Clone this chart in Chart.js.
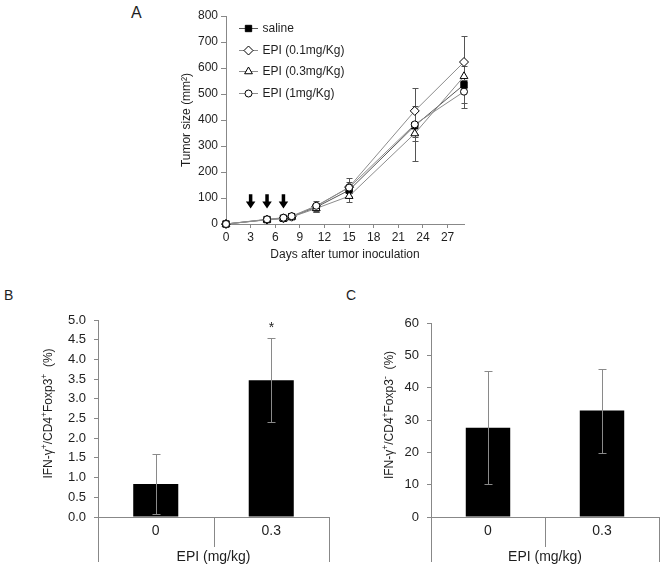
<!DOCTYPE html>
<html>
<head>
<meta charset="utf-8">
<script src="https://cdn.jsdelivr.net/npm/chart.js@4.4.0/dist/chart.umd.min.js"></script>
<style>
  body { margin: 0; background: #fff; }
  #page { position: relative; width: 666px; height: 570px; font-family: "Liberation Sans", Arial, sans-serif; color: #1e1e1e; }
  canvas { position: absolute; }
  .tag { position: absolute; font-size: 16px; line-height: 16px; }
</style>
</head>
<body>
<div id="page">
  <div class="tag" style="left:131px;top:5px">A</div>
  <div class="tag" style="left:4px;top:288px;font-size:14px;line-height:14px">B</div>
  <div class="tag" style="left:346px;top:288px;font-size:14px;line-height:14px">C</div>
  <canvas id="chartA" width="340" height="266" style="left:140px;top:0"></canvas>
  <canvas id="chartB" width="340" height="290" style="left:0;top:280px"></canvas>
  <canvas id="chartC" width="326" height="290" style="left:340px;top:280px"></canvas>
</div>
<script>
// Panel A: tumor growth
const days = [0, 5, 7, 8, 11, 15, 23, 29];
const salineMean = [0, 17, 22, 28, 65, 130, 378, 536];
const salineErr = [0, 3, 3, 4, 15, 25, 60, 90];
const epi01Mean = [0, 17, 22, 28, 68, 142, 435, 623];
const epi01Err = [0, 3, 3, 4, 22, 36, 88, 100];
const epi03Mean = [0, 16, 21, 27, 60, 107, 348, 568];
const epi03Err = [0, 3, 4, 4, 15, 22, 106, 40];
const epi1Mean = [0, 18, 24, 30, 70, 140, 383, 509];
const epi1Err = [0, 3, 4, 4, 12, 20, 50, 45];
const seriesLabels = ['saline', 'EPI (0.1mg/Kg)', 'EPI (0.3mg/Kg)', 'EPI (1mg/Kg)'];
const arrowDays = [3, 5, 7];
const arrowTop = 114;
const arrowTip = 60;

// Panels B and C
const doseLabels = ['0', '0.3'];
const bMean = [0.84, 3.47];
const bErr = [0.76, 1.07];
const bSig = ['', '*'];
const cMean = [27.6, 32.9];
const cErr = [17.5, 13.0];
const cSig = ['', ''];
// y titles: [text, superscript?]
const bTitle = [['IFN-γ', 0], ['+', 1], ['/CD4', 0], ['+', 1], ['Foxp3', 0], ['+', 1], ['  (%)', 0]];
const cTitle = [['IFN-γ', 0], ['+', 1], ['/CD4', 0], ['+', 1], ['Foxp3', 0], ['-', 1], ['  (%)', 0]];

const FONT = '"Liberation Sans", Arial, sans-serif';
const TEXT = '#1e1e1e';
const AXIS = '#888';
Chart.defaults.font.family = FONT;
Chart.defaults.color = TEXT;

function marker(ctx, style, r, fill, x, y) {
  ctx.save();
  ctx.fillStyle = fill;
  ctx.strokeStyle = '#000';
  ctx.lineWidth = 1;
  Chart.helpers.drawPoint(ctx, { pointStyle: style, radius: r, rotation: 0, borderWidth: 1 }, x, y);
  ctx.restore();
}

function series(label, mean, err, style, fill, line, r, order) {
  return {
    label: label,
    data: days.map((d, i) => ({ x: d, y: mean[i] })),
    err: err,
    order: order,
    borderColor: line,
    borderWidth: 1,
    pointStyle: style,
    pointRadius: r,
    pointBackgroundColor: fill,
    pointBorderColor: '#000',
    pointBorderWidth: 1,
    tension: 0,
    clip: false
  };
}

// error bars behind the markers
const lineErrors = {
  id: 'lineErrors',
  beforeDatasetsDraw(chart) {
    const { ctx, scales: { x, y } } = chart;
    ctx.save();
    ctx.strokeStyle = '#555';
    ctx.lineWidth = 1;
    chart.data.datasets.forEach(ds => {
      ds.data.forEach((p, i) => {
        const e = ds.err[i];
        if (!e) return;
        const px = Math.round(x.getPixelForValue(p.x)) + 0.5;
        const top = Math.round(y.getPixelForValue(p.y + e)) + 0.5;
        const bot = Math.round(y.getPixelForValue(p.y - e)) + 0.5;
        ctx.beginPath();
        ctx.moveTo(px, top); ctx.lineTo(px, bot);
        ctx.moveTo(px - 3, top); ctx.lineTo(px + 3, top);
        ctx.moveTo(px - 3, bot); ctx.lineTo(px + 3, bot);
        ctx.stroke();
      });
    });
    ctx.restore();
  }
};

const arrows = {
  id: 'arrows',
  afterDatasetsDraw(chart) {
    const { ctx, scales: { x, y } } = chart;
    ctx.save();
    ctx.fillStyle = '#000';
    arrowDays.forEach(d => {
      const cx = x.getPixelForValue(d);
      const top = y.getPixelForValue(arrowTop);
      const tip = y.getPixelForValue(arrowTip);
      const headH = 7, shaft = 3.5, head = 9.5;
      ctx.beginPath();
      ctx.moveTo(cx - shaft / 2, top);
      ctx.lineTo(cx + shaft / 2, top);
      ctx.lineTo(cx + shaft / 2, tip - headH);
      ctx.lineTo(cx + head / 2, tip - headH);
      ctx.lineTo(cx, tip);
      ctx.lineTo(cx - head / 2, tip - headH);
      ctx.lineTo(cx - shaft / 2, tip - headH);
      ctx.closePath();
      ctx.fill();
    });
    ctx.restore();
  }
};

// legend sits inside the plot, top left
const innerLegend = {
  id: 'innerLegend',
  afterDraw(chart) {
    const { ctx, chartArea } = chart;
    ctx.save();
    ctx.font = '12px ' + FONT;
    ctx.textBaseline = 'middle';
    chart.data.datasets.forEach((ds, i) => {
      const yy = Math.round(chartArea.top + 12 + i * 21.5) + 0.5;
      const x0 = chartArea.left + 13;
      ctx.strokeStyle = ds.borderColor;
      ctx.lineWidth = 1;
      ctx.beginPath();
      ctx.moveTo(x0, yy); ctx.lineTo(x0 + 19, yy);
      ctx.stroke();
      marker(ctx, ds.pointStyle, ds.pointRadius, ds.pointBackgroundColor, x0 + 9.5, yy);
      ctx.fillStyle = TEXT;
      ctx.fillText(ds.label, x0 + 23.5, yy);
    });
    ctx.restore();
  }
};

new Chart(document.getElementById('chartA'), {
  type: 'line',
  data: {
    datasets: [
      series(seriesLabels[0], salineMean, salineErr, 'rect', '#000', '#555', 4.5, 4),
      series(seriesLabels[1], epi01Mean, epi01Err, 'rectRot', '#fff', '#8c8c8c', 4.5, 3),
      series(seriesLabels[2], epi03Mean, epi03Err, 'triangle', '#fff', '#8c8c8c', 4.5, 2),
      series(seriesLabels[3], epi1Mean, epi1Err, 'circle', '#fff', '#8c8c8c', 3.5, 1)
    ]
  },
  options: {
    responsive: false,
    animation: false,
    layout: { padding: { left: 35, top: 16, right: 16, bottom: 0 } },
    plugins: { legend: { display: false }, tooltip: { enabled: false } },
    scales: {
      x: {
        type: 'linear', min: 0, max: 29,
        afterFit: s => { s.height = 42; },
        ticks: { stepSize: 3, includeBounds: false, padding: 2, maxRotation: 0, font: { size: 12 } },
        grid: { drawOnChartArea: false, tickLength: 4, color: AXIS },
        border: { color: AXIS },
        title: { display: true, text: 'Days after tumor inoculation', font: { size: 12 } }
      },
      y: {
        min: 0, max: 800,
        afterFit: s => { s.width = 51; },
        ticks: { stepSize: 100, padding: 3, font: { size: 12 } },
        grid: { drawOnChartArea: false, tickLength: 5, color: AXIS },
        border: { color: AXIS },
        title: { display: true, text: 'Tumor size (mm²)', font: { size: 12 } }
      }
    }
  },
  plugins: [lineErrors, arrows, innerLegend]
});

// bar panels
const barErrors = {
  id: 'barErrors',
  afterDatasetsDraw(chart) {
    const { ctx, scales: { x, y } } = chart;
    const ds = chart.data.datasets[0];
    ctx.save();
    ctx.strokeStyle = '#8a8a8a';
    ctx.lineWidth = 1;
    ctx.font = '14px ' + FONT;
    ctx.textAlign = 'center';
    ctx.textBaseline = 'alphabetic';
    ds.data.forEach((v, i) => {
      const px = Math.round(x.getPixelForValue(i)) + 0.5;
      const top = Math.round(y.getPixelForValue(v + ds.err[i])) + 0.5;
      const bot = Math.round(y.getPixelForValue(v - ds.err[i])) + 0.5;
      ctx.beginPath();
      ctx.moveTo(px, top); ctx.lineTo(px, bot);
      ctx.moveTo(px - 4, top); ctx.lineTo(px + 4, top);
      ctx.moveTo(px - 4, bot); ctx.lineTo(px + 4, bot);
      ctx.stroke();
      if (ds.sig[i]) {
        ctx.fillStyle = TEXT;
        ctx.fillText(ds.sig[i], px, top - 7);
      }
    });
    ctx.restore();
  }
};

const catDividers = {
  id: 'catDividers',
  afterDraw(chart) {
    const { ctx, chartArea, scales: { x } } = chart;
    const mid = (x.getPixelForValue(0) + x.getPixelForValue(1)) / 2;
    const lines = [[chartArea.left, 45], [mid, 30], [chartArea.right, 45]];
    ctx.save();
    ctx.strokeStyle = AXIS;
    ctx.lineWidth = 1;
    lines.forEach(([px, len]) => {
      const xx = Math.round(px) + 0.5;
      ctx.beginPath();
      ctx.moveTo(xx, chartArea.bottom);
      ctx.lineTo(xx, chartArea.bottom + len);
      ctx.stroke();
    });
    ctx.restore();
  }
};

// rotated y title with superscripts
const supTitle = {
  id: 'supTitle',
  afterDraw(chart, args, opts) {
    const { ctx, chartArea, scales: { y } } = chart;
    const base = '12px ' + FONT, sup = '8.5px ' + FONT;
    ctx.save();
    let total = 0;
    opts.parts.forEach(([t, s]) => { ctx.font = s ? sup : base; total += ctx.measureText(t).width; });
    ctx.translate(y.left + 12.3, (chartArea.top + chartArea.bottom) / 2 - 5);
    ctx.rotate(-Math.PI / 2);
    ctx.fillStyle = TEXT;
    ctx.textBaseline = 'middle';
    let pos = -total / 2;
    opts.parts.forEach(([t, s]) => {
      ctx.font = s ? sup : base;
      ctx.fillText(t, pos, s ? -4 : 0);
      pos += ctx.measureText(t).width;
    });
    ctx.restore();
  }
};

function barChart(id, mean, err, sig, yMax, yStep, decimals, yTitle, pad, yWidth) {
  return new Chart(document.getElementById(id), {
    type: 'bar',
    data: {
      labels: doseLabels,
      datasets: [{ data: mean, err: err, sig: sig, backgroundColor: '#000', barPercentage: 0.39, categoryPercentage: 1 }]
    },
    options: {
      responsive: false,
      animation: false,
      layout: { padding: pad },
      plugins: { legend: { display: false }, tooltip: { enabled: false }, supTitle: { parts: yTitle } },
      scales: {
        x: {
          afterFit: s => { s.height = 53; },
          grid: { display: false, drawTicks: false },
          border: { color: AXIS },
          ticks: { padding: 6, font: { size: 14 } },
          title: { display: true, text: 'EPI (mg/kg)', font: { size: 14 } }
        },
        y: {
          min: 0, max: yMax,
          afterFit: s => { s.width = yWidth; },
          ticks: { stepSize: yStep, padding: 8, font: { size: 13 }, callback: v => v.toFixed(decimals) },
          grid: { drawOnChartArea: false, tickLength: 4, color: AXIS },
          border: { color: AXIS }
        }
      }
    },
    plugins: [barErrors, catDividers, supTitle]
  });
}

barChart('chartB', bMean, bErr, bSig, 5, 0.5, 1, bTitle,
  { left: 36, top: 40, right: 11, bottom: 0 }, 62);
barChart('chartC', cMean, cErr, cSig, 60, 10, 0, cTitle,
  { left: 37, top: 43, right: 7, bottom: 0 }, 54);
</script>
</body>
</html>
